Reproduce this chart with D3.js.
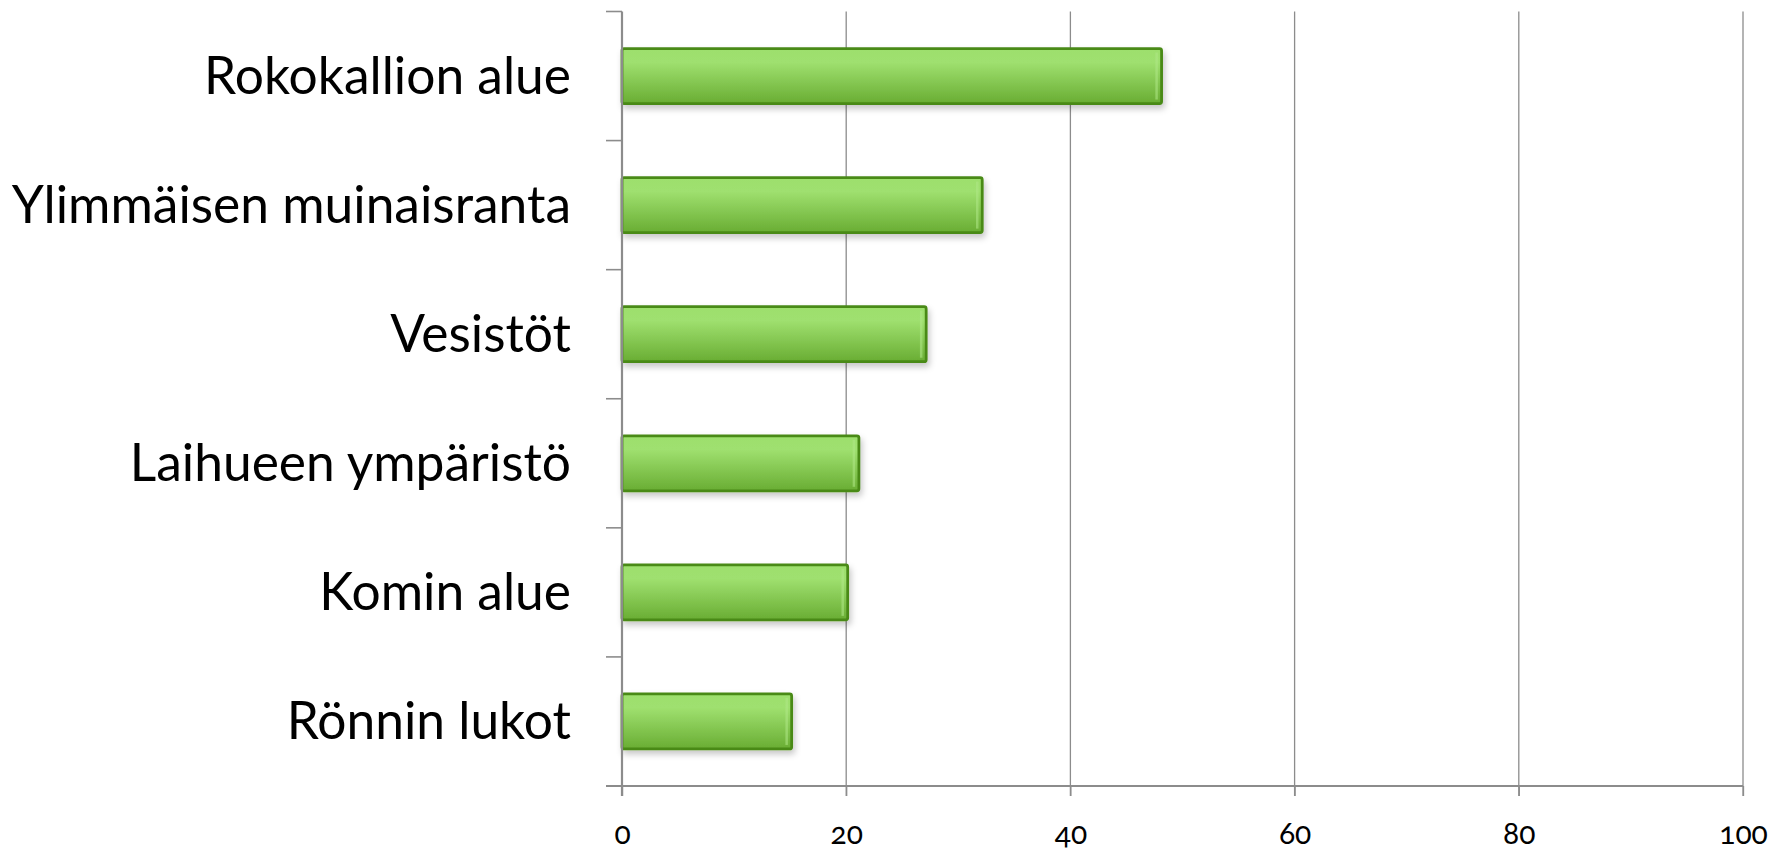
<!DOCTYPE html>
<html><head><meta charset="utf-8">
<script src="https://cdn.jsdelivr.net/npm/d3@7"></script>
<style>html,body{margin:0;padding:0;background:#fff;}</style>
</head><body>
<svg id="chart" width="1791" height="853"></svg>
<script>
const categories = ["Rokokallion alue","Ylimmäisen muinaisranta","Vesistöt","Laihueen ympäristö","Komin alue","Rönnin lukot"];
const values = [48, 32, 27, 21, 20, 15];
const xTicks = [0, 20, 40, 60, 80, 100];

const svg = d3.select("#chart");
const mLeft = 622, mRight = 1743, mTop = 11.5, mBottom = 786;

const x = d3.scaleLinear().domain([0, 100]).range([mLeft, mRight]);
const y = d3.scaleBand().domain(categories).range([mTop, mBottom]).paddingInner(0.574).paddingOuter(0.287);

const defs = svg.append("defs");
const grad = defs.append("linearGradient").attr("id","barGrad").attr("x1",0).attr("y1",0).attr("x2",0).attr("y2",1);
grad.append("stop").attr("offset","0%").attr("stop-color","#9ddf6d");
grad.append("stop").attr("offset","25%").attr("stop-color","#9fe06f");
grad.append("stop").attr("offset","100%").attr("stop-color","#69ad33");
const filt = defs.append("filter").attr("id","shadow").attr("x","-5%").attr("y","-20%").attr("width","110%").attr("height","160%");
filt.append("feDropShadow").attr("dx",2).attr("dy",4).attr("stdDeviation",3).attr("flood-color","#000").attr("flood-opacity",0.22);

// gridlines
svg.append("g").selectAll("line").data(xTicks.slice(1)).join("line")
  .attr("x1", d => x(d)).attr("x2", d => x(d))
  .attr("y1", mTop).attr("y2", mBottom + 10)
  .attr("stroke", "#8c8c8c").attr("stroke-width", 1.3);

// bars
svg.append("g").selectAll("rect").data(categories).join("rect")
  .attr("x", x(0))
  .attr("y", d => y(d))
  .attr("width", (d,i) => x(values[i]) - x(0) + 1.5)
  .attr("height", y.bandwidth())
  .attr("rx", 2)
  .attr("fill", "url(#barGrad)")
  .attr("stroke", "#4a8a17").attr("stroke-width", 2.8)
  .attr("filter", "url(#shadow)");

// right highlight on bars
svg.append("g").selectAll("line").data(categories).join("line")
  .attr("x1", (d,i) => x(values[i]) - 3.5).attr("x2", (d,i) => x(values[i]) - 3.5)
  .attr("y1", d => y(d) + 4).attr("y2", d => y(d) + y.bandwidth() - 4)
  .attr("stroke", "#b0e887").attr("stroke-width", 2.5).attr("opacity", 0.55);

// x axis
const xAxis = d3.axisBottom(x).tickValues(xTicks).tickSize(10).tickPadding(27).tickFormat(d3.format("d"));
const gx = svg.append("g").attr("transform", `translate(0,${mBottom})`).call(xAxis);
gx.select(".domain").remove();
gx.append("line").attr("x1", mLeft - 16).attr("x2", mRight).attr("y1", 0).attr("y2", 0).attr("stroke", "#8c8c8c").attr("stroke-width", 2.2);
gx.selectAll(".tick line").attr("stroke", "#8c8c8c").attr("stroke-width", 1.3);
gx.selectAll(".tick text").attr("fill", "#000")
  .style("font-family", "Lato, 'Open Sans', sans-serif").style("font-size", "30px")
  .style("font-variant-numeric", "oldstyle-nums");

// y axis
const bandTicks = d3.range(categories.length + 1).map(i => mTop + i * (mBottom - mTop) / categories.length);
svg.append("line").attr("x1", mLeft).attr("x2", mLeft).attr("y1", mTop).attr("y2", mBottom + 10)
  .attr("stroke", "#8c8c8c").attr("stroke-width", 2.2);
svg.append("g").selectAll("line").data(bandTicks).join("line")
  .attr("x1", mLeft - 16).attr("x2", mLeft).attr("y1", d => d).attr("y2", d => d)
  .attr("stroke", "#8c8c8c").attr("stroke-width", 1.6);

// category labels
svg.append("g").selectAll("text").data(categories).join("text")
  .attr("x", 571)
  .attr("y", d => y(d) + y.bandwidth() / 2)
  .attr("dy", "0.35em")
  .attr("text-anchor", "end")
  .style("font-family", "Lato, 'Open Sans', sans-serif")
  .style("font-size", "51.5px")
  .attr("fill", "#000")
  .text(d => d);
</script>
</body></html>
